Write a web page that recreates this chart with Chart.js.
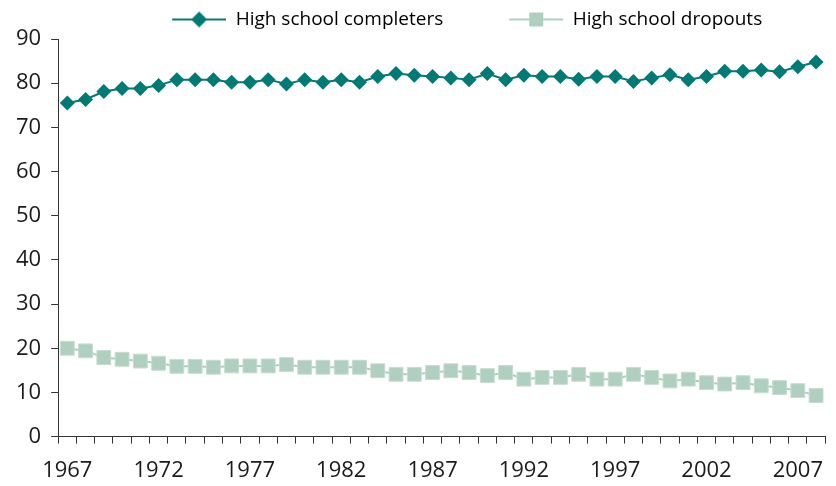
<!DOCTYPE html>
<html>
<head>
<meta charset="utf-8">
<script src="https://cdn.jsdelivr.net/npm/chart.js@4/dist/chart.umd.min.js"></script>
<style>
  html, body { margin: 0; padding: 0; background: #fff; }
  #wrap { width: 836px; height: 486px; }
</style>
</head>
<body>
<div id="wrap"><canvas id="chart"></canvas></div>
<script>
const years = [1967, 1968, 1969, 1970, 1971, 1972, 1973, 1974, 1975, 1976,
               1977, 1978, 1979, 1980, 1981, 1982, 1983, 1984, 1985, 1986,
               1987, 1988, 1989, 1990, 1991, 1992, 1993, 1994, 1995, 1996,
               1997, 1998, 1999, 2000, 2001, 2002, 2003, 2004, 2005, 2006,
               2007, 2008];

const completers = [75.5, 76.3, 78.1, 78.8, 78.8, 79.5, 80.8, 80.8, 80.8, 80.2,
                    80.2, 80.8, 79.8, 80.8, 80.2, 80.8, 80.2, 81.5, 82.2, 81.8,
                    81.5, 81.2, 80.8, 82.2, 80.8, 81.8, 81.5, 81.5, 80.9, 81.5,
                    81.5, 80.4, 81.2, 81.9, 80.8, 81.5, 82.7, 82.7, 83.0, 82.6,
                    83.7, 84.8];

const dropouts = [20.0, 19.4, 17.9, 17.5, 17.1, 16.6, 15.9, 15.9, 15.7, 16.0,
                  16.0, 16.0, 16.3, 15.7, 15.7, 15.7, 15.7, 14.9, 14.1, 14.1,
                  14.5, 14.9, 14.5, 13.8, 14.5, 13.0, 13.4, 13.4, 14.1, 13.0,
                  13.0, 14.1, 13.4, 12.6, 13.0, 12.2, 11.9, 12.2, 11.5, 11.1,
                  10.4, 9.3];

const yTicks = [0, 10, 20, 30, 40, 50, 60, 70, 80, 90];

const teal = '#007a75';
const sage = '#afcfbf';
const fontFamily = '"Open Sans", "DejaVu Sans", sans-serif';

// legend swatch: line with the marker on it, left part left blank as spacing
function legendSwatch(color, shape) {
  const c = document.createElement('canvas');
  c.width = 105;
  c.height = 20;
  const g = c.getContext('2d');
  const x0 = 51, x1 = 105, cx = 78, cy = 10;
  g.strokeStyle = color;
  g.lineWidth = 2;
  g.beginPath();
  g.moveTo(x0, cy);
  g.lineTo(x1, cy);
  g.stroke();
  g.fillStyle = color;
  if (shape === 'diamond') {
    g.beginPath();
    g.moveTo(cx, cy - 8);
    g.lineTo(cx + 8, cy);
    g.lineTo(cx, cy + 8);
    g.lineTo(cx - 8, cy);
    g.closePath();
    g.fill();
  } else {
    g.fillRect(cx - 7, cy - 7, 14, 14);
  }
  return c;
}

const swatches = [legendSwatch(teal, 'diamond'), legendSwatch(sage, 'square')];

const ctx = document.getElementById('chart').getContext('2d');
new Chart(ctx, {
  type: 'line',
  data: {
    labels: years,
    datasets: [
      {
        label: 'High school completers',
        data: completers,
        borderColor: teal,
        backgroundColor: teal,
        borderWidth: 2,
        pointStyle: 'rectRot',
        pointRadius: 7.5,
        pointBorderWidth: 0,
        tension: 0
      },
      {
        label: 'High school dropouts',
        data: dropouts,
        borderColor: sage,
        backgroundColor: sage,
        borderWidth: 2,
        pointStyle: 'rect',
        pointRadius: 9.8,
        pointBorderWidth: 1,
        pointBorderColor: '#c6ddd1',
        tension: 0
      }
    ]
  },
  options: {
    responsive: true,
    maintainAspectRatio: false,
    animation: false,
    layout: { padding: { left: 6, right: 2, top: -5, bottom: -12 } },
    plugins: {
      tooltip: { enabled: false },
      legend: {
        display: true,
        position: 'top',
        fullSize: false,
        labels: {
          usePointStyle: true,
          pointStyleWidth: 105,
          boxHeight: 20,
          padding: 15,
          color: '#1a1a1a',
          font: { family: fontFamily, size: 19 },
          generateLabels: (chart) => chart.data.datasets.map((ds, i) => ({
            text: ds.label,
            pointStyle: swatches[i],
            fillStyle: ds.borderColor,
            strokeStyle: ds.borderColor,
            lineWidth: 0,
            datasetIndex: i,
            hidden: false
          }))
        }
      }
    },
    scales: {
      x: {
        type: 'category',
        offset: true,
        grid: {
          offset: true,
          drawOnChartArea: false,
          drawTicks: true,
          tickLength: 7,
          color: '#333',
          lineWidth: 1
        },
        border: { color: '#333', width: 1 },
        ticks: {
          autoSkip: false,
          maxRotation: 0,
          padding: 14,
          color: '#1a1a1a',
          font: { family: fontFamily, size: 22 },
          callback: function (value, index) {
            const y = years[index];
            return (y - years[0]) % 5 === 0 ? String(y) : '';
          }
        }
      },
      y: {
        min: yTicks[0],
        max: yTicks[yTicks.length - 1],
        afterBuildTicks: (axis) => { axis.ticks = yTicks.map(v => ({ value: v })); },
        grid: {
          drawOnChartArea: false,
          drawTicks: true,
          tickLength: 7,
          color: '#333'
        },
        border: { color: '#333', width: 1 },
        ticks: {
          padding: 10,
          color: '#1a1a1a',
          font: { family: fontFamily, size: 22 }
        }
      }
    }
  }
});
</script>
</body>
</html>
